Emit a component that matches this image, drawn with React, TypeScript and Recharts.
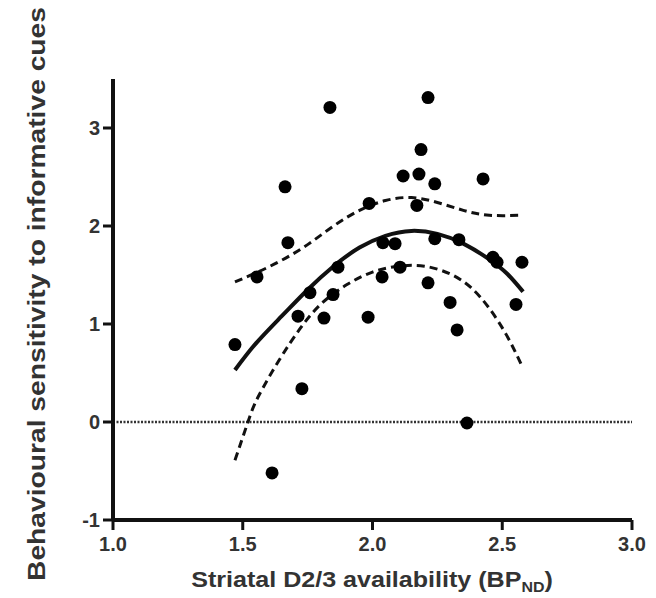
import React from 'react';
import { ComposedChart, Line, ReferenceLine, Scatter, XAxis, YAxis } from 'recharts';

// tick labels
const xTicks = [1.0, 1.5, 2.0, 2.5, 3.0];
const yTicks = [-1, 0, 1, 2, 3];

// individual subjects
const subjects = [
  { x: 1.47, y: 0.79 },
  { x: 1.555, y: 1.48 },
  { x: 1.613, y: -0.52 },
  { x: 1.663, y: 2.4 },
  { x: 1.674, y: 1.83 },
  { x: 1.713, y: 1.08 },
  { x: 1.728, y: 0.34 },
  { x: 1.759, y: 1.32 },
  { x: 1.813, y: 1.06 },
  { x: 1.836, y: 3.21 },
  { x: 1.848, y: 1.3 },
  { x: 1.867, y: 1.58 },
  { x: 1.983, y: 1.07 },
  { x: 1.987, y: 2.23 },
  { x: 2.037, y: 1.48 },
  { x: 2.04, y: 1.83 },
  { x: 2.087, y: 1.82 },
  { x: 2.106, y: 1.58 },
  { x: 2.118, y: 2.51 },
  { x: 2.171, y: 2.21 },
  { x: 2.179, y: 2.53 },
  { x: 2.187, y: 2.78 },
  { x: 2.214, y: 3.31 },
  { x: 2.214, y: 1.42 },
  { x: 2.24, y: 2.43 },
  { x: 2.24, y: 1.87 },
  { x: 2.299, y: 1.22 },
  { x: 2.326, y: 0.94 },
  { x: 2.333, y: 1.86 },
  { x: 2.364, y: -0.01 },
  { x: 2.426, y: 2.48 },
  { x: 2.464, y: 1.68 },
  { x: 2.48, y: 1.63 },
  { x: 2.553, y: 1.2 },
  { x: 2.576, y: 1.63 },
];

// quadratic fit and its 95% band
const fitLine = [
  { x: 1.47, y: 0.53 },
  { x: 1.55, y: 0.8 },
  { x: 1.65, y: 1.08 },
  { x: 1.75, y: 1.35 },
  { x: 1.85, y: 1.59 },
  { x: 1.95, y: 1.78 },
  { x: 2.05, y: 1.9 },
  { x: 2.15, y: 1.95 },
  { x: 2.25, y: 1.92 },
  { x: 2.35, y: 1.82 },
  { x: 2.45, y: 1.66 },
  { x: 2.52, y: 1.51 },
  { x: 2.58, y: 1.33 },
];

const upperBand = [
  { x: 1.47, y: 1.43 },
  { x: 1.55, y: 1.52 },
  { x: 1.65, y: 1.65 },
  { x: 1.75, y: 1.81 },
  { x: 1.85, y: 2.0 },
  { x: 1.95, y: 2.16 },
  { x: 2.05, y: 2.26 },
  { x: 2.15, y: 2.29 },
  { x: 2.25, y: 2.24 },
  { x: 2.35, y: 2.16 },
  { x: 2.45, y: 2.11 },
  { x: 2.58, y: 2.11 },
];

const lowerBand = [
  { x: 1.47, y: -0.39 },
  { x: 1.52, y: 0.0 },
  { x: 1.56, y: 0.26 },
  { x: 1.64, y: 0.63 },
  { x: 1.72, y: 0.95 },
  { x: 1.8, y: 1.2 },
  { x: 1.9, y: 1.4 },
  { x: 2.0, y: 1.53 },
  { x: 2.1, y: 1.59 },
  { x: 2.2, y: 1.59 },
  { x: 2.3, y: 1.51 },
  { x: 2.38, y: 1.37 },
  { x: 2.45, y: 1.16 },
  { x: 2.52, y: 0.87 },
  { x: 2.58, y: 0.55 },
];

const font = '"Liberation Sans", Arial, Helvetica, sans-serif';
const ink = '#111';
const grey = '#333';

const tickStyle = { fill: grey, fontSize: 20, fontWeight: 700, fontFamily: font };

const Dot = (props: any) => <circle cx={props.cx} cy={props.cy} r={6.5} fill="#000" />;

const YTitle = () => (
  <text
    transform="translate(29,286) rotate(-90)"
    textAnchor="middle"
    dominantBaseline="central"
    fontFamily={font}
    fontWeight={700}
    fontSize={23}
    fill={grey}
    textLength={574}
    lengthAdjust="spacingAndGlyphs"
  >
    Behavioural sensitivity to informative cues
  </text>
);

const XTitle = () => (
  <g transform="translate(364,579) scale(1.14,1)">
    <text textAnchor="middle" fontFamily={font} fontWeight={700} fontSize={22} fill={grey}>
      Striatal D2/3 availability (BP
      <tspan dy={5} fontSize={14}>ND</tspan>
      <tspan dy={-5}>)</tspan>
    </text>
  </g>
);

export default function App() {
  return (
    <div style={{ width: 648, height: 590 }}>
      <ComposedChart width={648} height={590} margin={{ top: 71, right: 24, bottom: 28, left: 55 }}>
        <XAxis
          type="number"
          dataKey="x"
          domain={[1, 3]}
          ticks={xTicks}
          tickFormatter={(v: number) => v.toFixed(1)}
          allowDataOverflow
          height={50}
          tickSize={10}
          tickMargin={7}
          tick={tickStyle}
          axisLine={{ stroke: ink, strokeWidth: 4 }}
          tickLine={{ stroke: ink, strokeWidth: 3 }}
          label={<XTitle />}
        />
        <YAxis
          type="number"
          dataKey="y"
          domain={[-1, 3.5]}
          ticks={yTicks}
          allowDataOverflow
          width={50}
          tickSize={10}
          tickMargin={3}
          tick={tickStyle}
          axisLine={{ stroke: ink, strokeWidth: 4 }}
          tickLine={{ stroke: ink, strokeWidth: 3 }}
          label={<YTitle />}
        />
        <ReferenceLine y={0} stroke={grey} strokeWidth={2.5} strokeDasharray="2 1.5" />
        <Line
          data={upperBand}
          dataKey="y"
          type="natural"
          stroke={ink}
          strokeWidth={3}
          strokeDasharray="8 5"
          dot={false}
          activeDot={false}
          isAnimationActive={false}
        />
        <Line
          data={lowerBand}
          dataKey="y"
          type="natural"
          stroke={ink}
          strokeWidth={3}
          strokeDasharray="8 5"
          dot={false}
          activeDot={false}
          isAnimationActive={false}
        />
        <Line
          data={fitLine}
          dataKey="y"
          type="natural"
          stroke={ink}
          strokeWidth={4}
          dot={false}
          activeDot={false}
          isAnimationActive={false}
        />
        <Scatter data={subjects} dataKey="y" shape={<Dot />} isAnimationActive={false} />
      </ComposedChart>
    </div>
  );
}
